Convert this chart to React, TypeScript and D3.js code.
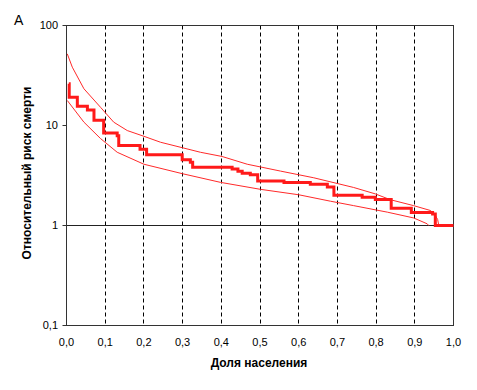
import React from 'react';
import * as d3 from 'd3';

// share of population vs relative risk of death
const mainSteps: [number, number][] = [
  [0.006, 26.1], [0.007, 19.2], [0.028, 15.6], [0.054, 14.3], [0.071, 11.3],
  [0.096, 8.4], [0.131, 7.9], [0.135, 6.3], [0.19, 5.8], [0.207, 5.1],
  [0.299, 4.54], [0.32, 4.3], [0.326, 3.82], [0.428, 3.68], [0.443, 3.49],
  [0.454, 3.34], [0.475, 3.22], [0.494, 2.78], [0.562, 2.69], [0.63, 2.59],
  [0.674, 2.42], [0.691, 2.01], [0.764, 1.92], [0.798, 1.82], [0.839, 1.49],
  [0.891, 1.35], [0.946, 1.3], [0.953, 1.0], [1.0, 1.0],
];

const upperCI: [number, number][] = [
  [0.002, 52.1], [0.015, 38.3], [0.045, 23.3], [0.088, 15.2], [0.122, 10.8],
  [0.157, 8.9], [0.2, 7.8], [0.243, 6.8], [0.299, 6.0], [0.346, 5.4],
  [0.402, 4.9], [0.467, 4.1], [0.553, 3.5], [0.639, 3.0], [0.742, 2.4],
  [0.798, 2.07], [0.837, 1.81], [0.897, 1.58], [0.941, 1.41], [0.953, 1.26],
  [0.959, 1.15], [0.962, 1.0],
];

const lowerCI: [number, number][] = [
  [0.002, 17.8], [0.045, 10.8], [0.088, 7.4], [0.131, 5.4], [0.2, 4.1],
  [0.299, 3.3], [0.398, 2.7], [0.501, 2.3], [0.6, 2.03], [0.682, 1.75],
  [0.742, 1.58], [0.829, 1.36], [0.897, 1.19], [0.932, 1.04], [0.936, 1.0],
];

const xTicks = [0, 0.1, 0.2, 0.3, 0.4, 0.5, 0.6, 0.7, 0.8, 0.9, 1.0];
const yTicks = [0.1, 1, 10, 100];
const yTickLabels = ['0,1', '1', '10', '100'];

const font = 'Liberation Sans, Arial, sans-serif';

export default function App() {
  const x = d3.scaleLinear().domain([0, 1]).range([66.5, 453.5]);
  const y = d3.scaleLog().domain([0.1, 100]).range([325.5, 25.5]);

  const step = d3
    .line<[number, number]>()
    .x(d => x(d[0]))
    .y(d => y(d[1]))
    .curve(d3.curveStepAfter);

  const smooth = d3
    .line<[number, number]>()
    .x(d => x(d[0]))
    .y(d => y(d[1]));

  return (
    <svg
      width={477}
      height={390}
      style={{ position: 'absolute', left: 0, top: 0, background: '#fff' }}
    >
      {/* dashed verticals */}
      {xTicks.slice(1, -1).map(t => (
        <line
          key={'g' + t}
          x1={Math.round(x(t) - 0.5) + 0.5}
          x2={Math.round(x(t) - 0.5) + 0.5}
          y1={y(100)}
          y2={y(0.1)}
          stroke="#000"
          strokeDasharray="4,3"
        />
      ))}
      {/* line at 1 */}
      <line x1={x(0)} x2={x(1)} y1={y(1)} y2={y(1)} stroke="#222" />
      {/* frame */}
      <rect
        x={x(0)}
        y={y(100)}
        width={x(1) - x(0)}
        height={y(0.1) - y(100)}
        fill="none"
        stroke="#333"
      />
      {yTicks.map((t, i) => (
        <g key={'y' + t}>
          <line x1={x(0) - 4} x2={x(0)} y1={y(t)} y2={y(t)} stroke="#333" />
          <text
            x={58}
            y={y(t)}
            dy="0.35em"
            textAnchor="end"
            fontFamily={font}
            fontSize={11}
            fill="#000"
          >
            {yTickLabels[i]}
          </text>
        </g>
      ))}
      {xTicks.map(t => (
        <text
          key={'x' + t}
          x={x(t)}
          y={342}
          dy="0.35em"
          textAnchor="middle"
          fontFamily={font}
          fontSize={11}
          fill="#000"
        >
          {t.toFixed(1).replace('.', ',')}
        </text>
      ))}

      <path d={smooth(upperCI) || ''} fill="none" stroke="#ff2a2a" strokeWidth={1} />
      <path d={smooth(lowerCI) || ''} fill="none" stroke="#ff2a2a" strokeWidth={1} />
      <path d={step(mainSteps) || ''} fill="none" stroke="#ff1a1a" strokeWidth={3} />

      <text
        x={259}
        y={363}
        dy="0.35em"
        textAnchor="middle"
        fontFamily={font}
        fontSize={12}
        fontWeight="bold"
      >
        Доля населения
      </text>
      <text
        transform="translate(27,173) rotate(-90)"
        dy="0.35em"
        textAnchor="middle"
        fontFamily={font}
        fontSize={12}
        fontWeight="bold"
      >
        Относительный риск смерти
      </text>
      <text x={14} y={25} fontFamily={font} fontSize={14} fill="#000">
        A
      </text>
    </svg>
  );
}
